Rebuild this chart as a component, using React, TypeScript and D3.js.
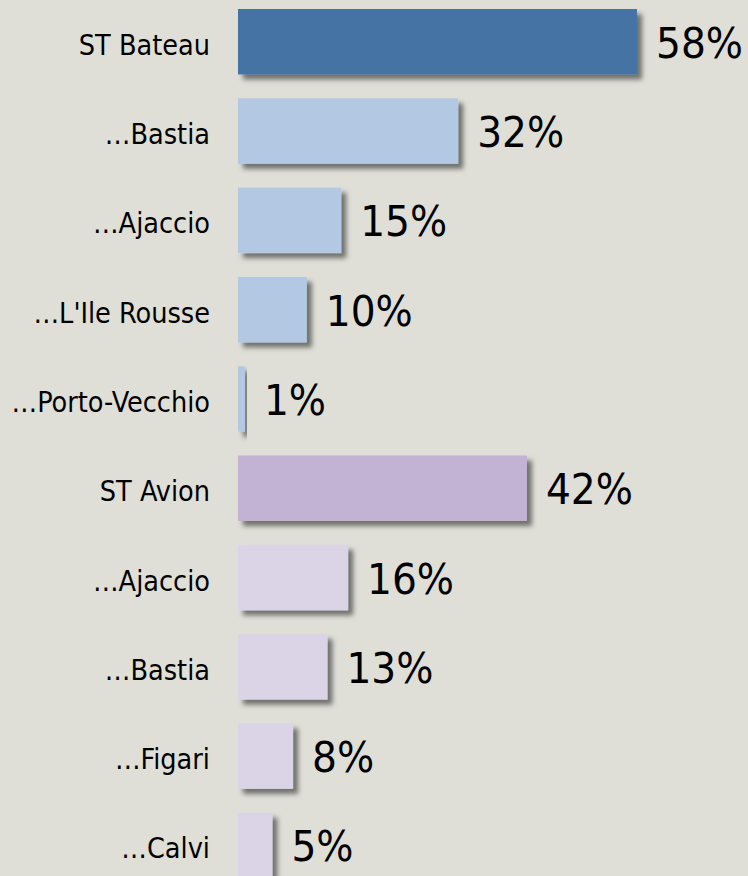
import { useRef, useEffect } from 'react';
import * as d3 from 'd3';

const labels = ['ST Bateau', '…Bastia', '…Ajaccio', "…L'Ile Rousse", '…Porto-Vecchio', 'ST Avion', '…Ajaccio', '…Bastia', '…Figari', '…Calvi'];
const values = [58, 32, 15, 10, 1, 42, 16, 13, 8, 5];
const colors = ['#4473a4', '#b3c9e3', '#b3c9e3', '#b3c9e3', '#b3c9e3', '#c2b2d4', '#dad4e6', '#dad4e6', '#dad4e6', '#dad4e6'];

const WIDTH = 748;
const HEIGHT = 876;
const FONT = "'DejaVu Sans Condensed', 'DejaVu Sans', sans-serif";

export default function App() {
  const svgRef = useRef<SVGSVGElement>(null);

  useEffect(() => {
    if (!svgRef.current) return;
    const svg = d3.select(svgRef.current);
    svg.selectAll('*').remove();

    const data = labels.map((label, i) => ({ key: i, label, value: values[i], color: colors[i] }));

    const yScale = d3
      .scaleBand<number>()
      .domain(data.map((d) => d.key))
      .range([-2.9, 890.1])
      .paddingInner(0.267)
      .paddingOuter(0.1335);

    const xScale = d3.scaleLinear().domain([0, 58]).range([238, 637]);

    // drop shadow under each bar
    const defs = svg.append('defs');
    const filter = defs.append('filter').attr('id', 'shadow').attr('x', '-20%').attr('y', '-20%').attr('width', '150%').attr('height', '160%');
    filter
      .append('feDropShadow')
      .attr('dx', 5)
      .attr('dy', 5)
      .attr('stdDeviation', 2.5)
      .attr('flood-color', '#000')
      .attr('flood-opacity', 0.5);

    svg.append('rect').attr('width', WIDTH).attr('height', HEIGHT).attr('fill', '#dfdfd8');

    const rows = svg.selectAll('g.row').data(data).join('g').attr('class', 'row');

    rows
      .append('rect')
      .attr('x', xScale(0))
      .attr('y', (d) => yScale(d.key) || 0)
      .attr('width', (d) => xScale(d.value) - xScale(0))
      .attr('height', yScale.bandwidth())
      .attr('fill', (d) => d.color)
      .attr('filter', 'url(#shadow)');

    rows
      .append('text')
      .attr('x', 210)
      .attr('y', (d) => (yScale(d.key) || 0) + yScale.bandwidth() / 2 + 13)
      .attr('text-anchor', 'end')
      .attr('font-family', FONT)
      .attr('font-size', 28.5)
      .attr('fill', '#000')
      .text((d) => d.label);

    rows
      .append('text')
      .attr('x', (d) => xScale(d.value) + 19)
      .attr('y', (d) => (yScale(d.key) || 0) + yScale.bandwidth() / 2 + 16)
      .attr('font-family', FONT)
      .attr('font-size', 43.5)
      .attr('fill', '#000')
      .text((d) => `${d.value}%`);
  }, []);

  return (
    <svg
      ref={svgRef}
      width={WIDTH}
      height={HEIGHT}
      style={{ position: 'absolute', left: 0, top: 0, display: 'block' }}
    />
  );
}
